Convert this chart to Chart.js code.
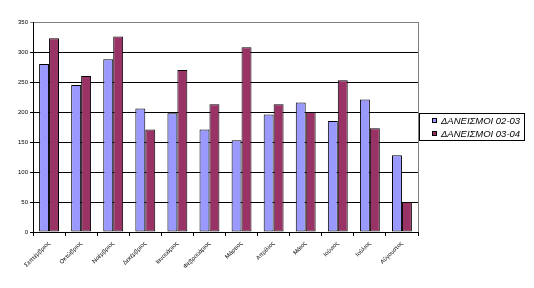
<!DOCTYPE html>
<html><head><meta charset="utf-8">
<script src="https://cdn.jsdelivr.net/npm/chart.js@4/dist/chart.umd.min.js"></script>
<style>html,body{margin:0;padding:0;background:#fff}#wrap{width:534px;height:288px}</style>
</head><body><div id="wrap"><canvas id="c" width="534" height="288"></canvas></div>
<script>
const categories = ["Σεπτέμβριος","Οκτώβριος","Νοέμβριος","Δεκέμβριος","Ιανουάριος","Φεβρουάριος","Μάρτιος","Απρίλιος","Μάιος","Ιούνιος","Ιούλιος","Αύγουστος"];
const loans0203 = [280, 245, 288, 206, 198, 171, 153, 196, 216, 185, 221, 128];
const loans0304 = [323, 260, 326, 171, 270, 213, 308, 213, 200, 253, 173, 50];
const seriesNames = ["ΔΑΝΕΙΣΜΟΙ 02-03", "ΔΑΝΕΙΣΜΟΙ 03-04"];
const yTicks = [0, 50, 100, 150, 200, 250, 300, 350];

const legendPlugin = {
  id: 'xlLegend',
  afterDraw(chart) {
    const ctx = chart.ctx;
    const a = chart.chartArea;
    ctx.save();
    ctx.strokeStyle = '#808080'; ctx.lineWidth = 1;
    ctx.beginPath(); ctx.moveTo(a.right + 0.5, a.top); ctx.lineTo(a.right + 0.5, a.bottom); ctx.stroke();
    ctx.strokeStyle = '#000';
    ctx.strokeRect(419.5, 113.5, 105, 27);
    ctx.font = 'italic 9.5px "Liberation Sans", Arial, sans-serif';
    ctx.textBaseline = 'middle';
    chart.data.datasets.forEach((ds, i) => {
      const y = 120.5 + i * 13;
      ctx.fillStyle = ds.backgroundColor;
      ctx.fillRect(432, y - 2.5, 5, 5);
      ctx.strokeStyle = '#000';
      ctx.strokeRect(432.5, y - 2, 4, 4);
      ctx.fillStyle = '#000';
      ctx.fillText(ds.label, 441, y + 0.5);
    });
    ctx.restore();
  }
};

new Chart(document.getElementById('c'), {
  type: 'bar',
  data: {
    labels: categories,
    datasets: [
      { label: seriesNames[0], data: loans0203, backgroundColor: '#9999FF', borderColor: '#000', borderWidth: 1, borderSkipped: false },
      { label: seriesNames[1], data: loans0304, backgroundColor: '#993366', borderColor: '#000', borderWidth: 1, borderSkipped: false }
    ]
  },
  options: {
    responsive: false,
    animation: false,
    events: [],
    layout: { padding: { left: 0, right: 116, top: 22, bottom: 0 } },
    plugins: { legend: { display: false }, tooltip: { enabled: false } },
    datasets: { bar: { categoryPercentage: 0.62, barPercentage: 1 } },
    scales: {
      x: {
        afterFit(s) { s.height = 56; },
        grid: { display: true, drawOnChartArea: false, drawTicks: true, tickLength: 4, color: '#000', offset: true },
        border: { color: '#000' },
        ticks: { font: { size: 6, family: '"Liberation Sans", Arial, sans-serif' }, color: '#000', minRotation: 45, maxRotation: 45, autoSkip: false, padding: 4 }
      },
      y: {
        min: 0, max: 350,
        afterFit(s) { s.width = 33; },
        afterBuildTicks(s) { s.ticks = yTicks.map(v => ({ value: v })); },
        grid: { color: (c) => c.tick && c.tick.value === 350 ? '#808080' : '#000', tickLength: 3, lineWidth: 1 },
        border: { color: '#000' },
        ticks: { font: { size: 6, family: '"Liberation Sans", Arial, sans-serif' }, color: '#000', padding: 2 }
      }
    }
  },
  plugins: [legendPlugin]
});
</script>
</body></html>
